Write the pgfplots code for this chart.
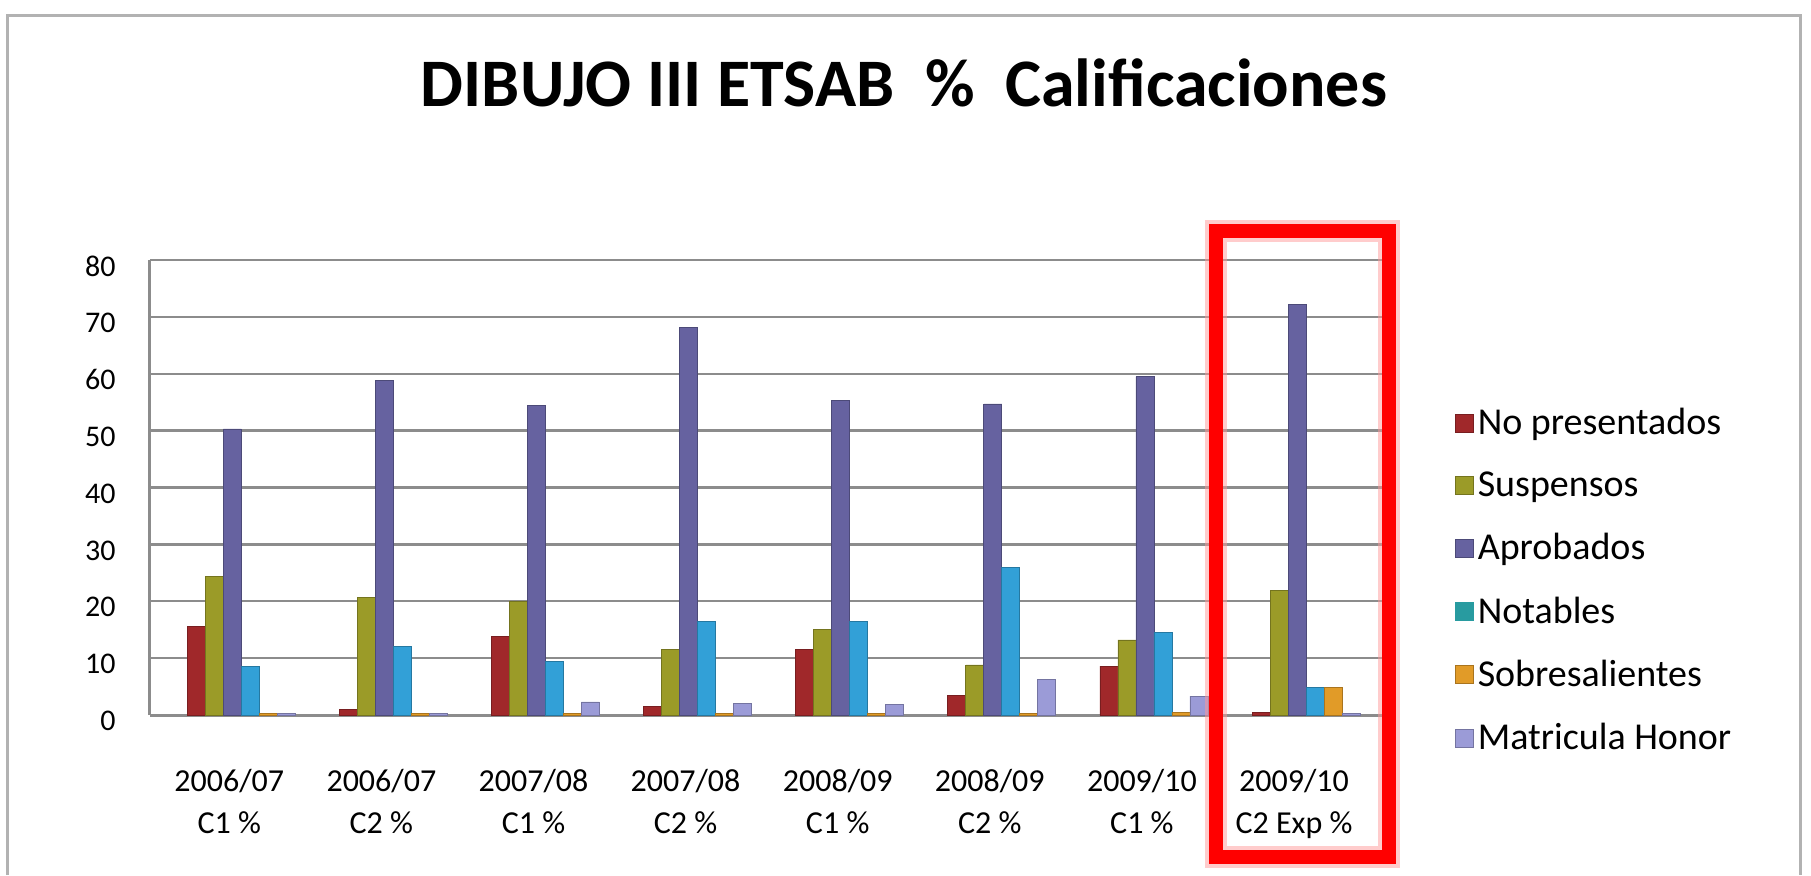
\documentclass[border=0pt]{standalone}
\usepackage{fontspec}
\setmainfont{Carlito}
\usepackage{pgfplots}
\pgfplotsset{compat=1.18}
\usepackage{pgfplotstable}

\definecolor{cNP}{RGB}{160,40,42}
\definecolor{cSu}{RGB}{155,155,40}
\definecolor{cAp}{RGB}{102,98,160}
\definecolor{cNo}{RGB}{50,160,215}
\definecolor{cNoL}{RGB}{40,155,160}
\definecolor{cSo}{RGB}{225,155,40}
\definecolor{cMH}{RGB}{155,155,215}
\definecolor{gridgray}{RGB}{140,140,140}

\pgfplotsset{/pgfplots/ybar legend/.style={/pgfplots/legend image code/.code={\fill[##1] (0pt,-4.5pt) rectangle (9pt,4.5pt);}},
  tealleg/.style={/pgfplots/legend image code/.code={\fill[cNoL] (0pt,-4.5pt) rectangle (9pt,4.5pt);}}}

\pgfplotstableread{
x NP Su Ap No So MH
0 15.5 24.4 50.3 8.5 0.3 0.3
1 1.0 20.6 58.8 12.0 0.3 0.3
2 13.8 20.0 54.4 9.4 0.3 2.3
3 1.5 11.5 68.2 16.5 0.3 2.0
4 11.5 15.0 55.3 16.5 0.3 1.8
5 3.5 8.8 54.7 25.9 0.3 6.2
6 8.6 13.2 59.5 14.5 0.4 3.3
7 0.5 21.9 72.2 4.8 4.8 0.3
}\datatable

\begin{document}
\begin{tikzpicture}[x=1pt,y=1pt]
\useasboundingbox (0,0) rectangle (905.5,437.5);
\draw[gray!60, line width=1.5pt] (3.5,0) -- (3.5,429.5) -- (900,429.5) -- (900,0);
\node[anchor=base, inner sep=0pt, font=\fontsize{34}{40}\selectfont\bfseries] at (452,384) {DIBUJO III ETSAB\ \ \%\ \ Calificaciones};
\begin{axis}[
  at={(75pt,80pt)}, anchor=south west,
  scale only axis, width=618pt, height=227.5pt,
  ybar=0pt, bar width=9pt,
  xmin=-0.6, xmax=7.526, ymin=0, ymax=80,
  ytick={0,10,...,80}, xtick={0,...,7},
  xticklabels={{2006/07\\C1 \%},{2006/07\\C2 \%},{2007/08\\C1 \%},{2007/08\\C2 \%},{2008/09\\C1 \%},{2008/09\\C2 \%},{2009/10\\C1 \%},{2009/10\\C2 Exp \%}},
  xticklabel style={align=center, anchor=north, inner sep=0pt, yshift=-27pt, xshift=-6pt, font=\fontsize{16}{21}\selectfont},
  yticklabel style={anchor=east, inner sep=0pt, xshift=-17pt, yshift=-3pt, font=\fontsize{15}{18}\selectfont},
  /pgf/number format/assume math mode=true,
  ymajorgrids, grid style={gridgray, line width=1.2pt},
  axis x line*=bottom, axis y line*=left,
  axis line style={gridgray, line width=1.5pt},
  major tick length=0pt,
  legend cell align=left,
  legend style={draw=none, fill=none, at={(1.0506,0.2956)}, anchor=west,
    font=\fontsize{19}{22}\selectfont, row sep=13pt, nodes={inner sep=2pt}},
]
\addplot[fill=cNP, draw=cNP!75!black] table[x=x,y=NP]{\datatable};
\addlegendentry{No presentados}
\addplot[fill=cSu, draw=cSu!75!black] table[x=x,y=Su]{\datatable};
\addlegendentry{Suspensos}
\addplot[fill=cAp, draw=cAp!75!black] table[x=x,y=Ap]{\datatable};
\addlegendentry{Aprobados}
\addplot[fill=cNo, draw=cNo!75!black, tealleg] table[x=x,y=No]{\datatable};
\addlegendentry{Notables}
\addplot[fill=cSo, draw=cSo!75!black] table[x=x,y=So]{\datatable};
\addlegendentry{Sobresalientes}
\addplot[fill=cMH, draw=cMH!75!black] table[x=x,y=MH]{\datatable};
\addlegendentry{Matricula Honor}
\end{axis}
\draw[red!40, line width=11pt, opacity=0.5] (608,9) rectangle (694.5,322);
\draw[red, line width=7pt] (608,9) rectangle (694.5,322);
\end{tikzpicture}
\end{document}
